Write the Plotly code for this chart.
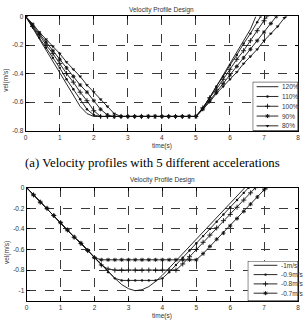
import plotly.graph_objects as go

W, H = 307, 328

# ---------------- top chart: 5 different accelerations ----------------
acc_labels = ["120%", "110%", "100%", "90%", "80%"]

t_120 = [0.0, 0.2, 0.4, 0.6, 0.8, 1.0, 1.2, 1.4, 1.6, 1.8, 2.0, 5.0, 5.2, 5.4, 5.6, 5.8, 6.0, 6.2, 6.4, 6.6, 6.76]
v_120 = [0, -0.08, -0.16, -0.24, -0.32, -0.40, -0.47, -0.55, -0.63, -0.68, -0.70, -0.70, -0.65, -0.57, -0.49,
         -0.41, -0.33, -0.25, -0.17, -0.09, 0]

t_110 = [0.0, 0.2, 0.4, 0.6, 0.8, 1.0, 1.2, 1.4, 1.6, 1.8, 2.0, 2.2, 2.4, 2.6, 2.8, 3.0, 3.2, 3.4, 3.6, 3.8,
         4.0, 4.2, 4.4, 4.6, 4.8, 5.0, 5.2, 5.4, 5.6, 5.8, 6.0, 6.2, 6.4, 6.6, 6.8, 6.9]
v_110 = [0, -0.07, -0.15, -0.22, -0.29, -0.36, -0.44, -0.51, -0.58, -0.65, -0.69,
         -0.70, -0.70, -0.70, -0.70, -0.70, -0.70, -0.70, -0.70, -0.70, -0.70, -0.70, -0.70, -0.70, -0.70, -0.70,
         -0.64, -0.57, -0.49, -0.42, -0.34, -0.27, -0.19, -0.12, -0.04, 0]

t_100 = [0.0, 0.2, 0.4, 0.6, 0.8, 1.0, 1.2, 1.4, 1.6, 1.8, 2.0, 2.2, 2.4, 2.6, 2.8, 3.0, 3.2, 3.4, 3.6, 3.8,
         4.0, 4.2, 4.4, 4.6, 4.8, 5.0, 5.2, 5.4, 5.6, 5.8, 6.0, 6.2, 6.4, 6.6, 6.8, 7.0, 7.08]
v_100 = [0, -0.07, -0.13, -0.20, -0.26, -0.33, -0.40, -0.46, -0.53, -0.59, -0.66,
         -0.70, -0.70, -0.70, -0.70, -0.70, -0.70, -0.70, -0.70, -0.70, -0.70, -0.70, -0.70, -0.70, -0.70, -0.70,
         -0.64, -0.57, -0.51, -0.44, -0.37, -0.30, -0.24, -0.17, -0.10, -0.03, 0]

t_90 = [0.0, 0.2, 0.4, 0.6, 0.8, 1.0, 1.2, 1.4, 1.6, 1.8, 2.0, 2.2, 2.4, 2.6, 2.8, 3.0, 3.2, 3.4, 3.6, 3.8,
        4.0, 4.2, 4.4, 4.6, 4.8, 5.0, 5.2, 5.4, 5.6, 5.8, 6.0, 6.2, 6.4, 6.6, 6.8, 7.0, 7.2, 7.36]
v_90 = [0, -0.06, -0.12, -0.18, -0.24, -0.30, -0.36, -0.42, -0.48, -0.53, -0.59, -0.65, -0.69,
        -0.70, -0.70, -0.70, -0.70, -0.70, -0.70, -0.70, -0.70, -0.70, -0.70, -0.70, -0.70, -0.70,
        -0.65, -0.59, -0.53, -0.47, -0.41, -0.35, -0.29, -0.23, -0.17, -0.11, -0.05, 0]

t_80 = [0.0, 0.2, 0.4, 0.6, 0.8, 1.0, 1.2, 1.4, 1.6, 1.8, 2.0, 2.2, 2.4, 2.6, 2.8, 3.0, 3.2, 3.4, 3.6, 3.8,
        4.0, 4.2, 4.4, 4.6, 4.8, 5.0, 5.2, 5.4, 5.6, 5.8, 6.0, 6.2, 6.4, 6.6, 6.8, 7.0, 7.2, 7.4, 7.6, 7.64]
v_80 = [0, -0.05, -0.11, -0.16, -0.21, -0.26, -0.32, -0.37, -0.42, -0.48, -0.53, -0.58, -0.63, -0.68,
        -0.70, -0.70, -0.70, -0.70, -0.70, -0.70, -0.70, -0.70, -0.70, -0.70, -0.70, -0.70,
        -0.65, -0.60, -0.54, -0.49, -0.44, -0.39, -0.33, -0.28, -0.23, -0.17, -0.12, -0.07, -0.01, 0]

# ---------------- bottom chart: 4 different max velocities ----------------
vel_labels = ["-1m/s", "-0.9m/s", "-0.8m/s", "-0.7m/s"]

t_m10 = [0.0, 0.2, 0.4, 0.6, 0.8, 1.0, 1.2, 1.4, 1.6, 1.8, 2.0, 2.2, 2.4, 2.6, 2.8, 3.0, 3.2, 3.4, 3.6, 3.8,
         4.0, 4.2, 4.4, 4.6, 4.8, 5.0, 5.2, 5.4, 5.6, 5.8, 6.0, 6.2, 6.4, 6.43]
v_m10 = [0, -0.07, -0.14, -0.20, -0.27, -0.34, -0.41, -0.48, -0.54, -0.61, -0.68,
         -0.75, -0.82, -0.88, -0.94, -0.98, -1.00, -0.99, -0.96, -0.91,
         -0.85, -0.78, -0.71, -0.64, -0.57, -0.50, -0.43, -0.36, -0.29, -0.22, -0.15, -0.08, -0.01, 0]

t_m09 = [0.0, 0.2, 0.4, 0.6, 0.8, 1.0, 1.2, 1.4, 1.6, 1.8, 2.0, 2.2, 2.4, 2.6, 2.8, 3.0, 3.2, 3.4, 3.6, 3.8,
         4.0, 4.2, 4.4, 4.6, 4.8, 5.0, 5.2, 5.4, 5.6, 5.8, 6.0, 6.2, 6.4, 6.54]
v_m09 = [0, -0.07, -0.14, -0.20, -0.27, -0.34, -0.41, -0.48, -0.54, -0.61, -0.68,
         -0.75, -0.82, -0.88, -0.90, -0.90, -0.90, -0.90, -0.90, -0.90,
         -0.88, -0.82, -0.75, -0.68, -0.61, -0.54, -0.47, -0.40, -0.33, -0.26, -0.19, -0.12, -0.05, 0]

t_m08 = [0.0, 0.2, 0.4, 0.6, 0.8, 1.0, 1.2, 1.4, 1.6, 1.8, 2.0, 2.2, 2.4, 2.6, 2.8, 3.0, 3.2, 3.4, 3.6, 3.8,
         4.0, 4.2, 4.4, 4.6, 4.8, 5.0, 5.2, 5.4, 5.6, 5.8, 6.0, 6.2, 6.4, 6.6, 6.74]
v_m08 = [0, -0.07, -0.14, -0.20, -0.27, -0.34, -0.41, -0.48, -0.54, -0.61, -0.68,
         -0.75, -0.79, -0.80, -0.80, -0.80, -0.80, -0.80, -0.80, -0.80, -0.80, -0.80, -0.80,
         -0.74, -0.67, -0.60, -0.53, -0.46, -0.39, -0.32, -0.26, -0.19, -0.12, -0.05, 0]

t_m07 = [0.0, 0.2, 0.4, 0.6, 0.8, 1.0, 1.2, 1.4, 1.6, 1.8, 2.0, 2.2, 2.4, 2.6, 2.8, 3.0, 3.2, 3.4, 3.6, 3.8,
         4.0, 4.2, 4.4, 4.6, 4.8, 5.0, 5.2, 5.4, 5.6, 5.8, 6.0, 6.2, 6.4, 6.6, 6.8, 7.0, 7.06]
v_m07 = [0, -0.07, -0.14, -0.20, -0.27, -0.34, -0.41, -0.48, -0.54, -0.61, -0.68,
         -0.70, -0.70, -0.70, -0.70, -0.70, -0.70, -0.70, -0.70, -0.70, -0.70, -0.70, -0.70, -0.70, -0.70, -0.70,
         -0.64, -0.57, -0.50, -0.44, -0.37, -0.30, -0.23, -0.16, -0.09, -0.02, 0]

x_ticks = [0, 1, 2, 3, 4, 5, 6, 7, 8]
x_ticktext = ["0", "1", "2", "3", "4", "5", "6", "7", "8"]
y1_ticks = [0, -0.2, -0.4, -0.6, -0.8]
y1_ticktext = ["0", "-0.2", "-0.4", "-0.6", "-0.8"]
y2_ticks = [0, -0.2, -0.4, -0.6, -0.8, -1.0]
y2_ticktext = ["0", "-0.2", "-0.4", "-0.6", "-0.8", "-1"]

title_text = "Velocity Profile Design"
x_title = "time(s)"
y_title = "vel(m/s)"
caption = "(a) Velocity profiles with 5 different accelerations"

FONT = "Liberation Sans"
TXT = "#333333"
LINE = "#111111"

top_series = [(t_120, v_120), (t_110, v_110), (t_100, v_100), (t_90, v_90), (t_80, v_80)]
bot_series = [(t_m10, v_m10), (t_m09, v_m09), (t_m08, v_m08), (t_m07, v_m07)]
for t, v in top_series + bot_series:
    assert len(t) == len(v)

top_markers = [None,
               dict(symbol="circle", size=2.4, color=LINE),
               dict(symbol="cross-thin", size=3.6, color=LINE, line=dict(width=0.9, color=LINE)),
               dict(symbol="asterisk", size=3.4, color=LINE, line=dict(width=0.9, color=LINE)),
               dict(symbol="triangle-down", size=3.4, color=LINE)]
bot_markers = [None,
               dict(symbol="circle", size=2.4, color=LINE),
               dict(symbol="cross-thin", size=3.6, color=LINE, line=dict(width=0.9, color=LINE)),
               dict(symbol="asterisk", size=3.4, color=LINE, line=dict(width=0.9, color=LINE))]

fig = go.Figure()


def add_series(series, markers, xa, ya):
    for (t, v), mk in zip(series, markers):
        fig.add_trace(go.Scatter(
            x=t, y=v, xaxis=xa, yaxis=ya,
            mode="lines" if mk is None else "lines+markers",
            line=dict(color=LINE, width=0.9),
            marker=mk, showlegend=False, hoverinfo="skip", cliponaxis=True))


add_series(top_series, top_markers, "x", "y")
add_series(bot_series, bot_markers, "x2", "y2")


# ---- legends drawn in small overlay axes (x3/y3 top, x4/y4 bottom), pixel units ----
def add_legend(labels, markers, xa, ya, wpx, hpx, ys, x0, x1, xtext):
    fig.add_trace(go.Scatter(x=[0, wpx, wpx, 0, 0], y=[0, 0, hpx, hpx, 0], xaxis=xa, yaxis=ya,
                             mode="lines", fill="toself", fillcolor="white",
                             line=dict(color="black", width=1), showlegend=False,
                             hoverinfo="skip", cliponaxis=False))
    for lab, mk, yy in zip(labels, markers, ys):
        fig.add_trace(go.Scatter(x=[x0, x1], y=[yy, yy], xaxis=xa, yaxis=ya, mode="lines",
                                 line=dict(color=LINE, width=0.9), showlegend=False,
                                 hoverinfo="skip", cliponaxis=False))
        if mk is not None:
            fig.add_trace(go.Scatter(x=[(x0 + x1) / 2], y=[yy], xaxis=xa, yaxis=ya, mode="markers",
                                     marker=mk, showlegend=False, hoverinfo="skip", cliponaxis=False))
        fig.add_annotation(x=xtext, y=yy, xref=xa, yref=ya, text=lab, showarrow=False,
                           xanchor="left", yanchor="middle",
                           font=dict(family=FONT, size=6.5, color=TXT))


add_legend(acc_labels, top_markers, "x3", "y3", 46, 50, [5, 15, 25, 35, 45], 4, 26, 27.5)
add_legend(vel_labels, bot_markers, "x4", "y4", 51, 41, [4.5, 14, 23.5, 33], 6, 30, 32)


def px_x(p):
    return p / W


def px_y(p):
    return 1 - p / H


axis_common = dict(
    showgrid=True, gridcolor="#3a3a3a", griddash="dash", gridwidth=0.8,
    showline=True, linecolor="black", linewidth=1, mirror="ticks",
    ticks="inside", ticklen=3, tickcolor="black", zeroline=False,
    tickfont=dict(family=FONT, size=6.5, color=TXT), fixedrange=True,
)

fig.update_layout(
    width=W, height=H, margin=dict(l=0, r=0, t=0, b=0),
    paper_bgcolor="white", plot_bgcolor="white", showlegend=False,
    xaxis=dict(domain=[px_x(24), px_x(300)], anchor="y", range=[0, 8],
               tickvals=x_ticks, ticktext=x_ticktext, **axis_common),
    yaxis=dict(domain=[px_y(129.5), px_y(12.7)], anchor="x", range=[-0.8, 0],
               tickvals=y1_ticks, ticktext=y1_ticktext, **axis_common),
    xaxis2=dict(domain=[px_x(25), px_x(300)], anchor="y2", range=[0, 8],
                tickvals=x_ticks, ticktext=x_ticktext, **axis_common),
    yaxis2=dict(domain=[px_y(303.5), px_y(187.7)], anchor="x2", range=[-1.1, 0],
                tickvals=y2_ticks, ticktext=y2_ticktext, **axis_common),
    xaxis3=dict(domain=[px_x(254), px_x(300)], anchor="y3", range=[0, 46], visible=False, fixedrange=True),
    yaxis3=dict(domain=[px_y(129.5), px_y(79.5)], anchor="x3", range=[50, 0], visible=False, fixedrange=True),
    xaxis4=dict(domain=[px_x(249), px_x(300)], anchor="y4", range=[0, 51], visible=False, fixedrange=True),
    yaxis4=dict(domain=[px_y(303.5), px_y(262.5)], anchor="x4", range=[41, 0], visible=False, fixedrange=True),
)

small = dict(family=FONT, size=6.5, color=TXT)
texts = [
    (title_text, px_x(162), px_y(6), 0),
    (title_text, px_x(162.5), px_y(179.5), 0),
    (x_title, px_x(162), px_y(145), 0),
    (x_title, px_x(162.5), px_y(318.5), 0),
    (y_title, px_x(4.5), px_y(78), -90),
    (y_title, px_x(4.5), px_y(254), -90),
]
for txt, xx, yy, ang in texts:
    fig.add_annotation(x=xx, y=yy, xref="paper", yref="paper", text=txt, showarrow=False,
                       xanchor="center", yanchor="middle", textangle=ang, font=small)

fig.add_annotation(x=px_x(152), y=px_y(162), xref="paper", yref="paper", text=caption,
                   showarrow=False, xanchor="center", yanchor="middle",
                   font=dict(family="Liberation Serif", size=12.8, color="black"))

fig.write_html("out.html", config=dict(displayModeBar=False))
